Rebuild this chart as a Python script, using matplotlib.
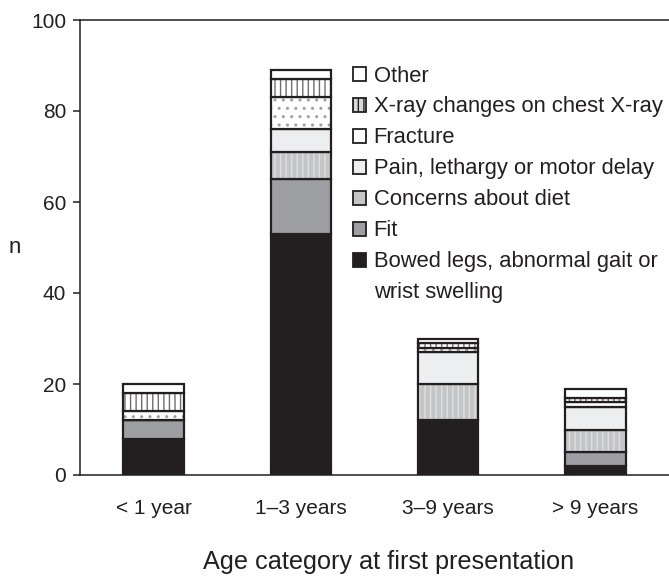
from matplotlib import pyplot as plt
from matplotlib.patches import Patch
import numpy as np

plt.rcParams['font.family'] = ['Liberation Sans', 'DejaVu Sans']

# data (counts per age group)
categories = ['< 1 year', '1\u20133 years', '3\u20139 years', '> 9 years']
bowed = [8, 53, 12, 2]
fit = [4, 12, 0, 3]
concerns = [0, 6, 8, 5]
pain = [0, 5, 7, 5]
fracture = [2, 7, 1, 1]
xray = [4, 4, 1, 1]
other = [2, 2, 1, 2]

labels = ['Bowed legs, abnormal gait or', 'Fit', 'Concerns about diet',
          'Pain, lethargy or motor delay', 'Fracture', 'X-ray changes on chest X-ray', 'Other']
series = [bowed, fit, concerns, pain, fracture, xray, other]

# face colour, hatch, hatch colour
styles = [('#231f20', None, '#231f20'),
          ('#9d9fa2', None, '#9d9fa2'),
          ('#c4c5c7', '|||', '#dedfe0'),
          ('#eceef0', None, '#eceef0'),
          ('white', '..', '#a0a0a0'),
          ('white', '|||', '#6d6e70'),
          ('white', None, 'white')]

ink = '#231f20'

f = plt.figure(figsize=(6.69, 5.77), dpi=100)
ax = f.add_axes([80 / 669, 102 / 577, 589 / 669, 455 / 577])

x = np.arange(len(categories))
w = 0.41
bottom = np.zeros(len(categories))
handles = []
for vals, (fc, h, hc), lab in zip(series, styles, labels):
    vals = np.array(vals, dtype=float)
    ax.bar(x, vals, w, bottom=bottom, color=fc, edgecolor=hc, hatch=h, linewidth=0)
    ax.bar(x, vals, w, bottom=bottom, fill=False, edgecolor=ink, linewidth=1.6)
    if lab.startswith('X-ray'):
        handles.append(Patch(facecolor='#d8d9da', edgecolor=ink, linewidth=1.3,
                             hatch='|||', label=lab))
    else:
        handles.append(Patch(facecolor=fc, edgecolor=ink, linewidth=1.3, label=lab))
    bottom += vals

ax.set_xlim(-0.5, 3.5)
ax.set_ylim(0, 100)
ax.set_yticks(range(0, 101, 20))
ax.set_xticks(x)
ax.set_xticklabels(categories)

ax.spines['right'].set_visible(False)
for s in ['left', 'top', 'bottom']:
    ax.spines[s].set_color(ink)
    ax.spines[s].set_linewidth(1.1)

ax.tick_params(axis='y', length=5, width=1.1, color=ink, pad=5, labelsize=15, labelcolor=ink)
ax.tick_params(axis='x', length=0, pad=17, labelsize=15, labelcolor=ink)

ax.set_ylabel('n', rotation=0, fontsize=16, color=ink, va='center', ha='center')
ax.yaxis.set_label_coords(-0.11, 0.5)
ax.set_xlabel('Age category at first presentation', fontsize=18.2, color=ink, va='top')
ax.xaxis.set_label_coords((389 - 80) / 589, -0.164)

# legend top-down, with the wrapped second line of the last entry as its own row
leg_handles = handles[::-1] + [Patch(visible=False)]
leg_labels = labels[::-1] + ['wrist swelling']
leg = ax.legend(leg_handles, leg_labels, loc='upper left', bbox_to_anchor=(0.464, 0.9),
                frameon=False, fontsize=15.8, borderpad=0, borderaxespad=0,
                handlelength=0.6, handleheight=0.6, handletextpad=0.33, labelspacing=0.455)
for t in leg.get_texts():
    t.set_color(ink)

plt.savefig('out.png', dpi=100)
